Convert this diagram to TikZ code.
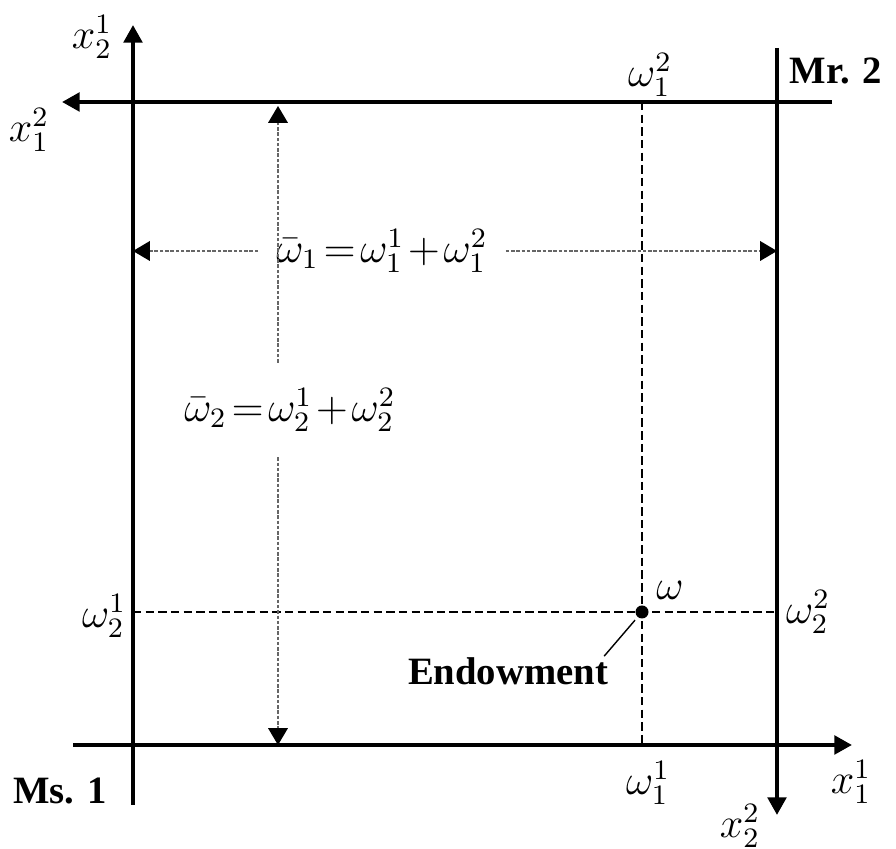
\documentclass[tikz,border=0pt]{standalone}
\usepackage{fontspec}
\setmainfont{Liberation Serif}
\usetikzlibrary{arrows.meta,positioning,calc}

\begin{document}
\begin{tikzpicture}[
  x=0.01cm, y=-0.01cm,
  font=\fontsize{11.5}{14}\selectfont,
  axis/.style={line width=1.2pt, -{Triangle[length=5pt, width=5.2pt]}},
  endw/.style={line width=0.5pt, dash pattern=on 2.4pt off 1.2pt},
  dim/.style={gray!80!black, line width=0.35pt, dash pattern=on 1pt off 0.5pt,
    -{Triangle[length=4.8pt, width=5.6pt, color=black]}},
  lbl/.style={inner sep=1pt},
  tot/.style={execute at begin node={\thickmuskip=2mu\medmuskip=1.5mu}},
  who/.style={font=\fontsize{11}{13}\selectfont\bfseries, inner sep=1pt}
]
\useasboundingbox (0,0) rectangle (896,849);
% origins and endowment point
\coordinate (O1) at (133,745);
\coordinate (O2) at (777,102);
\coordinate (W) at (642,612);
% axes of Ms. 1
\coordinate (x21s) at (133,805);
\coordinate (x21e) at (133,25);
\coordinate (x11s) at (73,745);
\coordinate (x11e) at (852,745);
% axes of Mr. 2
\coordinate (x12s) at (832,102);
\coordinate (x12e) at (62,102);
\coordinate (x22s) at (777,48);
\coordinate (x22e) at (777,815);
\draw[axis] (x21s) -- (x21e);
\draw[axis] (x11s) -- (x11e);
\draw[axis] (x12s) -- (x12e);
\draw[axis] (x22s) -- (x22e);
% endowment lines
\draw[endw] (O2 -| W) -- (O1 -| W);
\draw[endw] (O1 |- W) -- (O2 |- W);
\node[circle, fill, inner sep=0pt, minimum size=0.13cm] (wdot) at (W) {};
% axis labels
\node[lbl] (lx21) at (92,37) {$x_2^1$};
\node[lbl] (lx12) at (29,130) {$x_1^2$};
\node[lbl] (lx11) at (851,782) {$x_1^1$};
\node[lbl] (lx22) at (740,826) {$x_2^2$};
\node[lbl] (lw12) at (650,75) {$\omega_1^2$};
\node[lbl] (lw11) at (648,783) {$\omega_1^1$};
\node[lbl] (lw21) at (104,616) {$\omega_2^1$};
\node[lbl] (lw22) at (808,612) {$\omega_2^2$};
\node[lbl] (lw) at (670,590) {$\omega$};
\node[who] (ms1) at (60,791) {Ms. 1};
\node[who] (mr2) at (836,71) {Mr. 2};
\node[who] (lend) at (508,671) {Endowment};
\draw[line width=0.4pt, shorten <=1pt] (wdot) -- ($(lend.north east)+(-8,3)$);
% total endowments
\coordinate (d1l) at (133,251);
\coordinate (d1r) at (777,251);
\coordinate (d2t) at (278,106);
\coordinate (d2b) at (278,745);
\node[tot, inner xsep=5pt] (tot1) at (382,251) {$\bar\omega_1=\omega_1^1+\omega_1^2$};
\node[tot, inner ysep=7pt] (tot2) at (290,410) {$\bar\omega_2=\omega_2^1+\omega_2^2$};
\draw[dim] (tot1) -- (d1l);
\draw[dim] (tot1) -- (d1r);
\draw[dim] (tot2.north -| d2t) -- (d2t);
\draw[dim] (tot2.south -| d2b) -- (d2b);
\end{tikzpicture}
\end{document}
